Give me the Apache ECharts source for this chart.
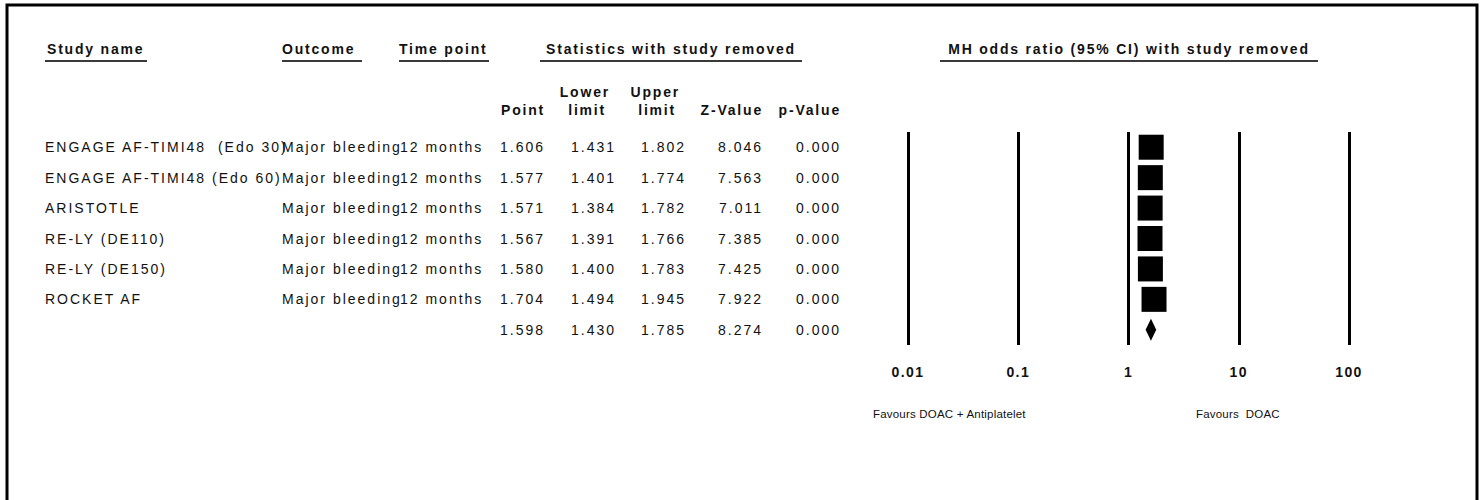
<!DOCTYPE html>
<html>
<head>
<meta charset="utf-8">
<script src="https://cdn.jsdelivr.net/npm/echarts@6/dist/echarts.min.js"></script>
<style>
  html, body { margin: 0; padding: 0; background: #ffffff; }
  #chart { width: 1483px; height: 500px; }
</style>
</head>
<body>
<div id="chart"></div>
<script>
// Sensitivity analysis: MH odds ratio with each study removed in turn
const studyNames = [
  'ENGAGE AF-TIMI48  (Edo 30)',
  'ENGAGE AF-TIMI48 (Edo 60)',
  'ARISTOTLE',
  'RE-LY (DE110)',
  'RE-LY (DE150)',
  'ROCKET AF'
];
const outcomes = ['Major bleeding', 'Major bleeding', 'Major bleeding', 'Major bleeding', 'Major bleeding', 'Major bleeding'];
const timePoints = ['12 months', '12 months', '12 months', '12 months', '12 months', '12 months'];
const pointEst = [1.606, 1.577, 1.571, 1.567, 1.580, 1.704];
const lowerLimit = [1.431, 1.401, 1.384, 1.391, 1.400, 1.494];
const upperLimit = [1.802, 1.774, 1.782, 1.766, 1.783, 1.945];
const zValues = [8.046, 7.563, 7.011, 7.385, 7.425, 7.922];
const pValues = [0.000, 0.000, 0.000, 0.000, 0.000, 0.000];

// Overall estimate
const pooledPoint = 1.598;
const pooledLower = 1.430;
const pooledUpper = 1.785;
const pooledZ = 8.274;
const pooledP = 0.000;

const axisTicks = [0.01, 0.1, 1, 10, 100];
const favourLeft = 'Favours DOAC + Antiplatelet';
const favourRight = 'Favours  DOAC';

// Layout
const FONT = '"Liberation Sans", Arial, sans-serif';
const INK = '#111111';
const nameX = 45, outcomeX = 282, timeX = 400;
const numRight = [545, 616, 686, 763, 841];   // right edges of Point, Lower, Upper, Z, p
const headerY = 49, ruleY = 61;

const rowKeys = studyNames.concat(['Overall']);

const chart = echarts.init(document.getElementById('chart'), null, { renderer: 'svg' });

const studyData = pointEst.map((p, i) => [p, lowerLimit[i], upperLimit[i], i]);
const pooledData = [[pooledPoint, pooledLower, pooledUpper, studyNames.length]];

const baseOption = {
  animation: false,
  backgroundColor: '#ffffff',
  grid: { left: 908, right: 134, top: 132, height: 213, outerBoundsMode: 'none', containLabel: false },
  xAxis: {
    type: 'log',
    logBase: 10,
    min: axisTicks[0],
    max: axisTicks[axisTicks.length - 1],
    splitNumber: 4,
    axisLine: { show: false },
    axisTick: { show: false },
    splitLine: { show: true, lineStyle: { color: '#000000', width: 3 } },
    axisLabel: {
      color: INK, fontFamily: FONT, fontSize: 14, fontWeight: 'bold', margin: 20,
      formatter: v => String(+Number(v).toPrecision(3))
    }
  },
  yAxis: {
    type: 'category',
    data: rowKeys,
    inverse: true,
    show: false
  },
  series: [
    {
      type: 'custom',
      name: 'study removed',
      data: studyData,
      encode: { x: [0, 1, 2], y: 3 },
      renderItem: (params, api) => {
        const row = api.value(3);
        const c = api.coord([api.value(0), row]);
        const lo = api.coord([api.value(1), row])[0];
        const hi = api.coord([api.value(2), row])[0];
        const s = 25;
        return {
          type: 'group',
          children: [
            { type: 'line', shape: { x1: lo, y1: c[1], x2: hi, y2: c[1] }, style: { stroke: '#000', lineWidth: 2 } },
            { type: 'rect', shape: { x: c[0] - s / 2, y: c[1] - s / 2, width: s, height: s }, style: { fill: '#000' } }
          ]
        };
      }
    },
    {
      type: 'custom',
      name: 'overall',
      data: pooledData,
      encode: { x: [0, 1, 2], y: 3 },
      renderItem: (params, api) => {
        const row = api.value(3);
        const c = api.coord([api.value(0), row]);
        const lo = api.coord([api.value(1), row])[0];
        const hi = api.coord([api.value(2), row])[0];
        const h = 11;
        return {
          type: 'polygon',
          shape: { points: [[lo, c[1]], [c[0], c[1] - h], [hi, c[1]], [c[0], c[1] + h]] },
          style: { fill: '#000' }
        };
      }
    }
  ]
};

chart.setOption(baseOption);

// Table text, positioned on the same rows as the plot
const rowY = i => chart.convertToPixel({ yAxisIndex: 0 }, i);
const txt = (x, y, text, align, opts) => ({
  type: 'text', x: x, y: y, silent: true,
  style: Object.assign({ text: text, fill: INK, font: '14px ' + FONT, textAlign: align, textVerticalAlign: 'middle' }, opts || {})
});
const bold = { font: 'bold 14px ' + FONT };
const rule = (x1, x2) => ({
  type: 'line', silent: true,
  shape: { x1: x1, y1: ruleY, x2: x2, y2: ruleY },
  style: { stroke: '#3a3a3a', lineWidth: 2 }
});

const g = [];
// frame
g.push({ type: 'rect', silent: true, shape: { x: 7, y: 5, width: 1470, height: 600 }, style: { fill: 'none', stroke: '#000', lineWidth: 3 } });

// column headers
g.push(txt(nameX + 2, headerY, 'Study name', 'left', bold), rule(45, 147));
g.push(txt(outcomeX, headerY, 'Outcome', 'left', bold), rule(282, 362));
g.push(txt(timeX - 1, headerY, 'Time point', 'left', bold), rule(399, 489));
g.push(txt(671, headerY, 'Statistics with study removed', 'center', bold), rule(540, 802));
g.push(txt(1129, headerY, 'MH odds ratio (95% CI) with study removed', 'center', bold), rule(940, 1318));
g.push(txt(numRight[0], 110, 'Point', 'right', bold));
g.push(txt(numRight[1] - 6, 92, 'Lower', 'right', bold));
g.push(txt(numRight[1] - 10, 110, 'limit', 'right', bold));
g.push(txt(numRight[2] - 6, 92, 'Upper', 'right', bold));
g.push(txt(numRight[2] - 10, 110, 'limit', 'right', bold));
g.push(txt(numRight[3], 110, 'Z-Value', 'right', bold));
g.push(txt(numRight[4], 110, 'p-Value', 'right', bold));

// study rows
studyNames.forEach((name, i) => {
  const y = rowY(i);
  g.push(txt(nameX, y, name, 'left'));
  g.push(txt(outcomeX, y, outcomes[i], 'left'));
  g.push(txt(timeX, y, timePoints[i], 'left'));
  [pointEst[i], lowerLimit[i], upperLimit[i], zValues[i], pValues[i]].forEach((v, k) => {
    g.push(txt(numRight[k], y, v.toFixed(3), 'right'));
  });
});
// overall row
const yo = rowY(studyNames.length);
[pooledPoint, pooledLower, pooledUpper, pooledZ, pooledP].forEach((v, k) => {
  g.push(txt(numRight[k], yo, v.toFixed(3), 'right'));
});

// favours captions
g.push(txt(873, 414, favourLeft, 'left', { font: '11.5px ' + FONT }));
g.push(txt(1196, 414, favourRight, 'left', { font: '11.5px ' + FONT }));

chart.setOption({ graphic: { elements: g } });

// Tracking of the printed table type: wide spacing for body and headers, tight for captions
function spaceText() {
  document.querySelectorAll('#chart svg text').forEach(t => {
    const cs = getComputedStyle(t);
    const fs = parseFloat(cs.fontSize);
    const isBold = cs.fontWeight === 'bold' || parseInt(cs.fontWeight, 10) >= 600;
    const isNumber = /^[0-9.]+$/.test(t.textContent.trim());
    let ls = 0.2;
    if (isBold && isNumber) ls = 1.4;
    else if (isBold) ls = 1.8;
    else if (fs >= 13.5) ls = 2;
    t.setAttribute('letter-spacing', ls);
  });
}
spaceText();
chart.on('finished', spaceText);
</script>
</body>
</html>
